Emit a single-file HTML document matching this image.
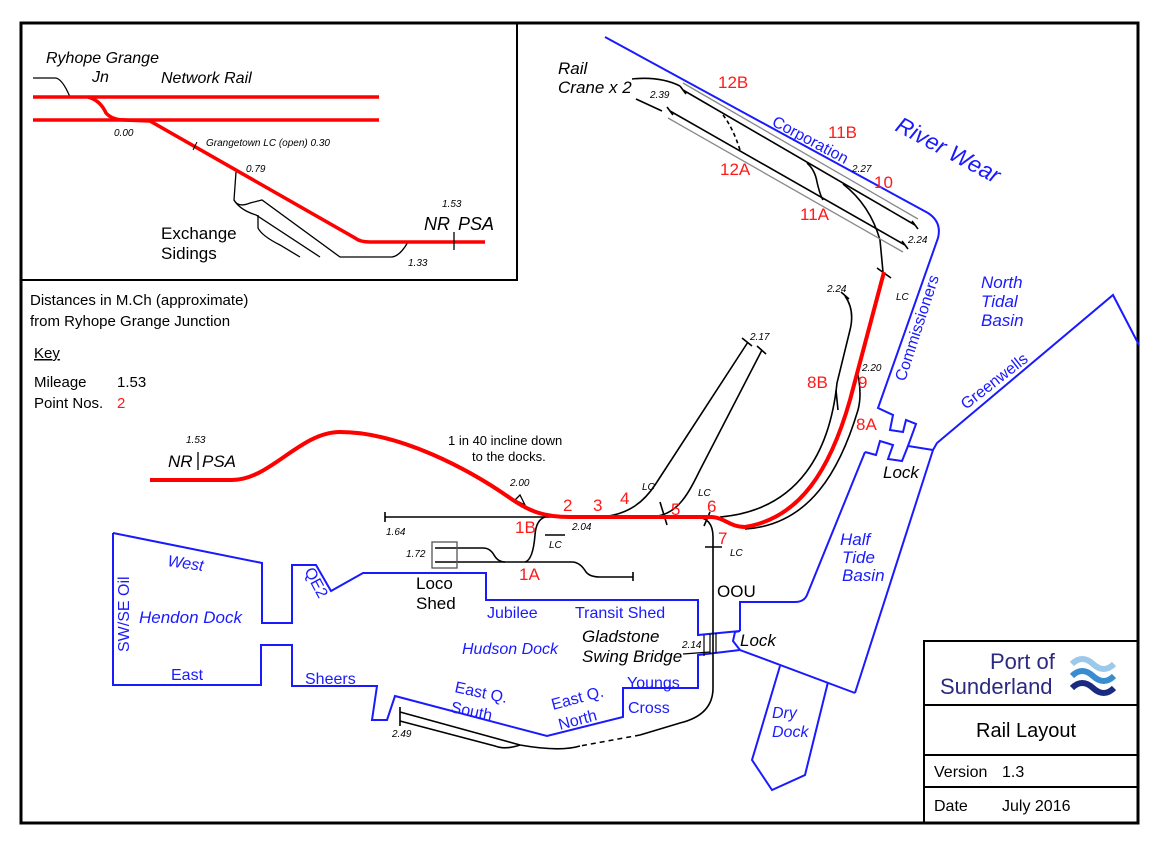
<!DOCTYPE html>
<html><head><meta charset="utf-8"><style>
body{margin:0;background:#fff;}
svg{display:block;}
text{font-family:"Liberation Sans",Arial,sans-serif;}
.b{fill:#1a1aff;font-size:16px;}
.bi{fill:#1a1aff;font-size:16px;font-style:italic;}
.r{fill:#ff1a1a;font-size:17px;}
.k{fill:#000;font-size:16px;}
.s{fill:#000;font-size:10px;font-style:italic;}
</style></head><body>
<svg width="1158" height="849" viewBox="0 0 1158 849" xmlns="http://www.w3.org/2000/svg">
<rect width="1158" height="849" fill="#fff"/>
<rect x="21" y="23" width="1117" height="800" fill="none" stroke="#000" stroke-width="3"/>
<path d="M517,23 V280 H21" fill="none" stroke="#000" stroke-width="2"/>
<!-- inset -->
<g fill="none">
<path d="M33,78 H55 Q62,78 70,97" stroke="#000" stroke-width="1.3"/>
<path d="M236,172 L234,200 Q238,208 250,203 L262,200 L340,257 L392,257 Q400,256 408,242" stroke="#000" stroke-width="1.3"/>
<path d="M258,215 L258,228 Q262,236 280,245 L300,257" stroke="#000" stroke-width="1.3"/>
<path d="M234,200 Q240,210 256,215 L320,257" stroke="#000" stroke-width="1.3"/>
<path d="M33,97 H379 M33,120 H379" stroke="#f00" stroke-width="3.5"/>
<path d="M88,97 Q100,100 106,113 Q112,120 125,120 L150,121 L355,238 Q360,242 370,242 H485" stroke="#f00" stroke-width="3.5"/>
<path d="M193,150 L197,142" stroke="#000" stroke-width="1"/>
<path d="M454,232 V250" stroke="#000" stroke-width="1.3"/>
</g>
<text x="46" y="63" class="k" style="font-style:italic;font-size:16px">Ryhope Grange</text>
<text x="92" y="82" class="k" style="font-style:italic">Jn</text>
<text x="161" y="83" class="k" style="font-style:italic">Network Rail</text>
<text x="114" y="136" class="s">0.00</text>
<text x="206" y="146" class="s">Grangetown LC (open)  0.30</text>
<text x="246" y="172" class="s">0.79</text>
<text x="442" y="207" class="s">1.53</text>
<text x="424" y="230" class="k" style="font-style:italic;font-size:18px">NR</text>
<text x="458" y="230" class="k" style="font-style:italic;font-size:18px">PSA</text>
<text x="408" y="266" class="s">1.33</text>
<text x="161" y="239" class="k" style="font-size:17px">Exchange</text>
<text x="161" y="259" class="k" style="font-size:17px">Sidings</text>
<!-- key -->
<text x="30" y="305" class="k" style="font-size:15px">Distances in M.Ch (approximate)</text>
<text x="30" y="326" class="k" style="font-size:15px">from Ryhope Grange Junction</text>
<text x="34" y="358" class="k" style="font-size:15px" text-decoration="underline">Key</text>
<text x="34" y="387" class="k" style="font-size:15px">Mileage</text>
<text x="117" y="387" class="k" style="font-size:15px">1.53</text>
<text x="34" y="408" class="k" style="font-size:15px">Point Nos.</text>
<text x="117" y="408" class="r" style="font-size:15px">2</text>
<!-- blue outlines -->
<g fill="none" stroke="#1a1aff" stroke-width="2">
<path d="M605,37 L928,213 Q942,222 938,238 L878,408 L893,415 L890,430 L903,432 L906,420 L916,424 L908,446 L933,450 L937,443 L1113,295 L1139,345"/>
<path d="M865,452 L876,455 L880,441 L893,445 L888,459 L902,461 L908,446"/>
<path d="M865,452 L807,595 Q804,602 795,602 L740,602 L740,631"/>
<path d="M933,450 L855,693"/>
<path d="M740,631 L735,632 L733,641 L740,650 L855,693"/>
<path d="M780,666 L752,760 L772,790 L805,775 L828,682"/>
<path d="M113,533 L262,563 L262,623 L292,623 L292,565 L316,565 L331,591 L363,573 L486,573 L486,600 L698,600 L698,635 L740,631"/>
<path d="M113,533 L113,685 L261,685 L261,645 L292,645 L292,686 L377,686 L372,720 L387,720 L395,696 L547,736 L623,717 L623,688 L698,688 L698,655 L740,650"/>
</g>
<!-- black tracks -->
<g fill="none" stroke="#000" stroke-width="1.6">
<path d="M385,517 H695 Q713,517 713,537 V688 Q713,715 680,723 L640,735"/>
<path d="M640,735 L580,746" stroke-dasharray="5,4"/>
<path d="M580,746 Q560,752 520,745 L400,712"/>
<path d="M400,721 L495,746 Q505,750 520,745"/>
<path d="M385,512 V522 M633,572 V581 M400,707 V716 M400,716 V726"/>
<path d="M545,517 Q536,520 535,535 Q533,560 525,562"/>
<path d="M435,562 H572 Q580,562 586,572 Q590,577 600,577 H633"/>
<path d="M435,548 H483 Q490,548 494,555 Q498,562 505,562"/>
<rect x="432" y="542" width="25" height="26" stroke="#555" stroke-width="1.3"/>
<path d="M600,517 C630,515 645,500 655,485 L748,342"/>
<path d="M658,516 C680,512 690,490 700,470 L762,350"/>
<path d="M742,338 L752,346 M757,346 L766,354"/>
<path d="M720,517 C800,510 830,450 837,383 L850,330 Q855,310 845,296"/>
<path d="M836,390 L838,410"/>
<path d="M745,529 C810,525 840,470 858,410 Q862,395 858,375"/>
<path d="M883,272 L880,240 Q870,205 843,184"/>
<path d="M841,292 L849,299"/>
<path d="M683,90 L915,225 M670,111 L905,245"/>
<path d="M680,86 L686,94 M667,107 L673,115 M912,221 L918,229 M902,241 L908,249"/>
<path d="M807,163 Q815,170 817,182 Q820,195 823,200"/>
<path d="M723,115 Q733,128 740,150" stroke-dasharray="4,3"/>
<path d="M632,79 Q660,76 680,86 M636,99 L662,111"/>
<path d="M515,500 L525,505 L520,495 Z" stroke-width="1.3"/>
<path d="M660,502 L667,525 M710,512 L704,526 M705,547 H722 M545,535 H565 M877,268 L891,278"/>
<path d="M683,654 L710,652" stroke-width="1.2"/>
<path d="M704,635 V656 M710,634 V654 M716,633 V653" stroke-width="1.2"/>
</g>
<g fill="none" stroke="#888" stroke-width="1.3">
<path d="M683,83 L918,219 M668,118 L903,252"/>
</g>
<path d="M150,480 L232,480 C270,480 300,432 340,432 C400,432 470,470 510,498 C530,512 545,517 570,517 L712,517 C725,518 730,527 745,527 C800,518 830,470 850,400 L884,272" fill="none" stroke="#f00" stroke-width="4"/>
<!-- main labels -->
<text x="186" y="443" class="s">1.53</text>
<text x="168" y="467" class="k" style="font-style:italic;font-size:17px">NR</text>
<path d="M198,452 V470" stroke="#000" stroke-width="1.3"/>
<text x="202" y="467" class="k" style="font-style:italic;font-size:17px">PSA</text>
<text x="448" y="445" class="k" style="font-size:13px">1 in 40 incline down</text>
<text x="472" y="461" class="k" style="font-size:13px">to the docks.</text>
<text x="510" y="486" class="s">2.00</text>
<text x="386" y="535" class="s">1.64</text>
<text x="572" y="530" class="s">2.04</text>
<text x="406" y="557" class="s">1.72</text>
<text x="549" y="548" class="s">LC</text>
<text x="642" y="490" class="s">LC</text>
<text x="698" y="496" class="s">LC</text>
<text x="730" y="556" class="s">LC</text>
<text x="896" y="300" class="s">LC</text>
<text x="750" y="340" class="s">2.17</text>
<text x="827" y="292" class="s">2.24</text>
<text x="862" y="371" class="s">2.20</text>
<text x="852" y="172" class="s">2.27</text>
<text x="908" y="243" class="s">2.24</text>
<text x="650" y="98" class="s">2.39</text>
<text x="682" y="648" class="s">2.14</text>
<text x="392" y="737" class="s">2.49</text>
<text x="515" y="533" class="r">1B</text>
<text x="519" y="580" class="r">1A</text>
<text x="563" y="511" class="r">2</text>
<text x="593" y="511" class="r">3</text>
<text x="620" y="504" class="r">4</text>
<text x="671" y="515" class="r">5</text>
<text x="707" y="512" class="r">6</text>
<text x="718" y="544" class="r">7</text>
<text x="807" y="388" class="r">8B</text>
<text x="858" y="388" class="r">9</text>
<text x="856" y="430" class="r">8A</text>
<text x="874" y="188" class="r">10</text>
<text x="800" y="220" class="r">11A</text>
<text x="828" y="138" class="r">11B</text>
<text x="720" y="175" class="r">12A</text>
<text x="718" y="88" class="r">12B</text>
<text x="558" y="74" class="k" style="font-style:italic;font-size:17px">Rail</text>
<text x="558" y="93" class="k" style="font-style:italic;font-size:17px">Crane x 2</text>
<text x="416" y="589" class="k" style="font-size:17px">Loco</text>
<text x="416" y="609" class="k" style="font-size:17px">Shed</text>
<text x="717" y="597" class="k" style="font-size:17px">OOU</text>
<text x="582" y="642" class="k" style="font-style:italic;font-size:17px">Gladstone</text>
<text x="582" y="662" class="k" style="font-style:italic;font-size:17px">Swing Bridge</text>
<text x="740" y="646" class="k" style="font-style:italic;font-size:17px">Lock</text>
<text x="883" y="478" class="k" style="font-style:italic;font-size:17px">Lock</text>
<!-- blue labels -->
<text x="167" y="566" class="bi" transform="rotate(8 167 566)">West</text>
<text x="139" y="623" class="bi" style="font-size:17px">Hendon Dock</text>
<text x="171" y="680" class="b">East</text>
<text x="129" y="652" class="b" transform="rotate(-90 129 652)">SW/SE Oil</text>
<text x="304" y="571" class="b" transform="rotate(62 304 571)">QE2</text>
<text x="487" y="618" class="b">Jubilee</text>
<text x="575" y="618" class="b">Transit Shed</text>
<text x="462" y="654" class="bi">Hudson Dock</text>
<text x="305" y="684" class="b">Sheers</text>
<text x="454" y="692" class="b" transform="rotate(12 454 692)">East Q.</text>
<text x="450" y="712" class="b" transform="rotate(12 450 712)">South</text>
<text x="553" y="710" class="b" transform="rotate(-15 553 710)">East Q.</text>
<text x="560" y="730" class="b" transform="rotate(-15 560 730)">North</text>
<text x="627" y="688" class="b">Youngs</text>
<text x="628" y="713" class="b">Cross</text>
<text x="772" y="718" class="bi">Dry</text>
<text x="772" y="737" class="bi">Dock</text>
<text x="840" y="545" class="bi" style="font-size:17px">Half</text>
<text x="842" y="563" class="bi" style="font-size:17px">Tide</text>
<text x="842" y="581" class="bi" style="font-size:17px">Basin</text>
<text x="981" y="288" class="bi" style="font-size:17px">North</text>
<text x="981" y="307" class="bi" style="font-size:17px">Tidal</text>
<text x="981" y="326" class="bi" style="font-size:17px">Basin</text>
<text x="771" y="125" class="b" transform="rotate(28 771 125)">Corporation</text>
<text x="894" y="130" class="bi" style="font-size:23px" transform="rotate(28 894 130)">River Wear</text>
<text x="905" y="382" class="b" transform="rotate(-72 905 382)">Commissioners</text>
<text x="966" y="410" class="b" transform="rotate(-38 966 410)">Greenwells</text>
<!-- title block -->
<g fill="none" stroke="#000" stroke-width="2">
<rect x="924" y="641" width="214" height="182"/>
<path d="M924,705 H1138 M924,755 H1138 M924,787 H1138"/>
</g>
<text x="990" y="669" fill="#2a2a80" style="font-size:22px">Port of</text>
<text x="940" y="694" fill="#2a2a80" style="font-size:22px">Sunderland</text>
<g fill="none" stroke-width="6">
<path d="M1072,664 Q1082,654 1093,664 T1114,664" stroke="#9cc8ea"/>
<path d="M1072,676 Q1082,666 1093,676 T1114,676" stroke="#3a8cd0"/>
<path d="M1072,688 Q1082,678 1093,688 T1114,688" stroke="#1a2a80"/>
</g>
<text x="976" y="737" class="k" style="font-size:20px">Rail Layout</text>
<text x="934" y="777" class="k">Version</text>
<text x="1002" y="777" class="k">1.3</text>
<text x="934" y="811" class="k">Date</text>
<text x="1002" y="811" class="k">July 2016</text>
</svg>
</body></html>
